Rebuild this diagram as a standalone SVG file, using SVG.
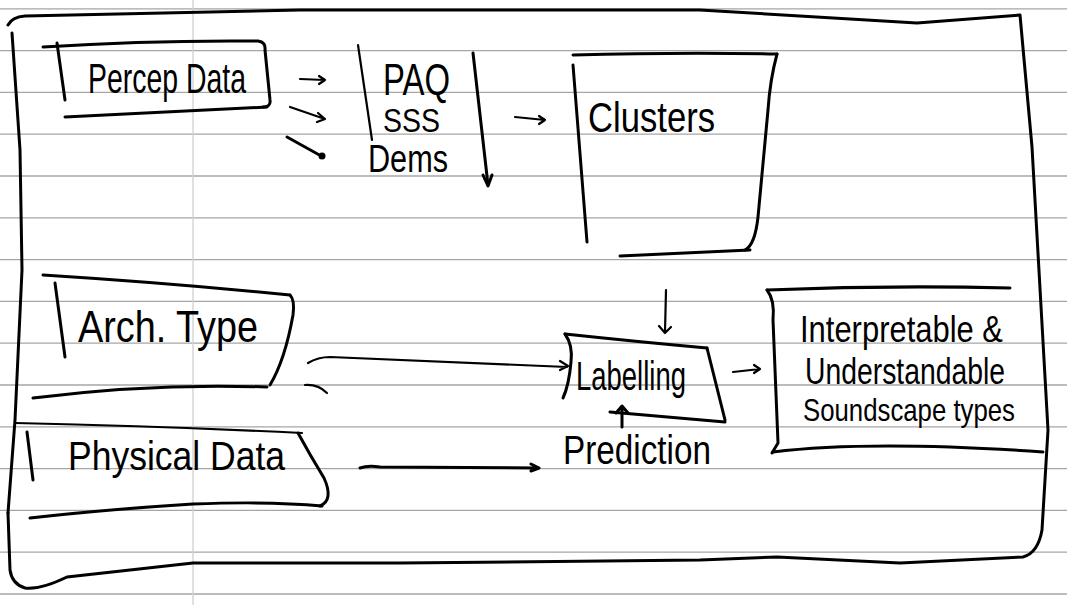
<svg xmlns="http://www.w3.org/2000/svg" width="1067" height="605" viewBox="0 0 1067 605">
<style>
.rule{stroke:#a6a6a6;stroke-width:1.3}
.margin{stroke:#cfcfcf;stroke-width:1.3}
.ink{fill:none;stroke:#000;stroke-width:3;stroke-linecap:round;stroke-linejoin:round}
.thin{fill:none;stroke:#000;stroke-width:2.2;stroke-linecap:round;stroke-linejoin:round}
text{font-family:"Liberation Sans","DejaVu Sans",sans-serif;fill:#000}
</style>
<rect width="1067" height="605" fill="#fff"/>
<g id="paper">
<line class="rule" x1="0" y1="8.8" x2="1067" y2="8.8"/>
<line class="rule" x1="0" y1="50.6" x2="1067" y2="50.6"/>
<line class="rule" x1="0" y1="92.4" x2="1067" y2="92.4"/>
<line class="rule" x1="0" y1="134.2" x2="1067" y2="134.2"/>
<line class="rule" x1="0" y1="176" x2="1067" y2="176"/>
<line class="rule" x1="0" y1="217.8" x2="1067" y2="217.8"/>
<line class="rule" x1="0" y1="259.6" x2="1067" y2="259.6"/>
<line class="rule" x1="0" y1="301.4" x2="1067" y2="301.4"/>
<line class="rule" x1="0" y1="343.2" x2="1067" y2="343.2"/>
<line class="rule" x1="0" y1="385" x2="1067" y2="385"/>
<line class="rule" x1="0" y1="426.8" x2="1067" y2="426.8"/>
<line class="rule" x1="0" y1="468.6" x2="1067" y2="468.6"/>
<line class="rule" x1="0" y1="510.4" x2="1067" y2="510.4"/>
<line class="rule" x1="0" y1="552.2" x2="1067" y2="552.2"/>
<line class="rule" x1="0" y1="594" x2="1067" y2="594"/>
<line class="margin" x1="193" y1="0" x2="193" y2="605"/>
</g>
<g id="frame">
<path class="ink" d="M8,25 Q12,17 25,16 L300,10 L700,10 L917,23 L1020,15 L1032,147 L1048,430 L1042,530 Q1038,553 1023,557 L900,563 L777,557 L700,560 L400,563 L193,563 L67,577 Q40,590 25,588 Q12,584 10,570 L8,513"/>
<path class="ink" d="M12,33 L20,150 L22,270 L15,420 L8,513"/>
</g>
<g id="percep-data">
<path class="ink" d="M43,47 Q150,40 258,41 Q266,42 265,50 L270,100 Q271,107 263,107"/>
<path class="ink" d="M65,117 Q170,112 267,107"/>
<path class="ink" d="M57,43 L65,100"/>
<text x="88" y="93" font-size="42" textLength="158" lengthAdjust="spacingAndGlyphs">Percep Data</text>
</g>
<g id="measures">
<path class="thin" d="M358,45 L372,140"/>
<path class="ink" d="M473,53 L488,185"/>
<path class="ink" d="M483,175 L488,186 L492,175"/>
<text x="383" y="95" font-size="44" textLength="67" lengthAdjust="spacingAndGlyphs">PAQ</text>
<text x="383" y="132" font-size="34" textLength="57" lengthAdjust="spacingAndGlyphs">SSS</text>
<text x="368" y="172" font-size="38" textLength="80" lengthAdjust="spacingAndGlyphs">Dems</text>
</g>
<g id="clusters">
<path class="ink" d="M573,55 Q680,52 777,54"/>
<path class="ink" d="M777,54 Q770,80 768,110 L758,217 Q755,245 745,250"/>
<path class="ink" d="M620,256 L750,250"/>
<path class="ink" d="M573,65 L587,242"/>
<text x="588" y="132" font-size="42" textLength="127" lengthAdjust="spacingAndGlyphs">Clusters</text>
</g>
<g id="arch-type">
<path class="ink" d="M43,275 Q170,283 290,295"/>
<path class="ink" d="M290,295 Q295,300 293,315 Q285,360 270,385"/>
<path class="ink" d="M33,398 Q150,383 267,387"/>
<path class="ink" d="M55,283 L65,357"/>
<text x="78" y="342" font-size="44" textLength="180" lengthAdjust="spacingAndGlyphs">Arch. Type</text>
</g>
<g id="physical-data">
<path class="thin" d="M15,423 Q160,426 302,433"/>
<path class="ink" d="M298,433 Q310,455 324,478 Q334,500 320,506"/>
<path class="ink" d="M30,518 Q100,510 193,504 Q270,501 322,506"/>
<path class="ink" d="M27,432 L33,480"/>
<text x="68" y="470" font-size="40" textLength="217" lengthAdjust="spacingAndGlyphs">Physical Data</text>
</g>
<g id="labelling">
<path class="ink" d="M565,334 Q640,342 707,348"/>
<path class="ink" d="M707,348 L725,420"/>
<path class="ink" d="M610,412 Q670,417 725,422"/>
<path class="ink" d="M565,334 Q573,345 571,362 Q569,385 563,398"/>
<text x="576" y="390" font-size="40" textLength="110" lengthAdjust="spacingAndGlyphs">Labelling</text>
</g>
<g id="prediction">
<text x="563" y="464" font-size="40" textLength="148" lengthAdjust="spacingAndGlyphs">Prediction</text>
</g>
<g id="soundscape-types">
<path class="ink" d="M767,290 Q890,285 1010,288"/>
<path class="ink" d="M767,290 Q775,300 773,320 L778,443 L772,453"/>
<path class="ink" d="M773,452 Q870,440 1043,452"/>
<text x="800" y="342" font-size="37" textLength="203" lengthAdjust="spacingAndGlyphs">Interpretable &amp;</text>
<text x="805" y="384" font-size="36" textLength="200" lengthAdjust="spacingAndGlyphs">Understandable</text>
<text x="803" y="421" font-size="32" textLength="212" lengthAdjust="spacingAndGlyphs">Soundscape types</text>
</g>
<g id="connectors">
<path class="thin" d="M300,79 L325,80 M319,76 L325,80 L319,84"/>
<path class="thin" d="M290,107 L325,119 M318,113 L325,119 L317,122"/>
<path class="ink" d="M287,137 L323,157"/>
<circle cx="322" cy="156" r="3.5" fill="#000"/>
<path class="thin" d="M515,117 L545,120 M539,116 L545,120 L539,124"/>
<path class="thin" d="M308,363 Q318,357 330,357 L567,367 M560,361 L568,366 L560,370"/>
<path class="thin" d="M305,385 Q318,384 327,393"/>
<path class="ink" d="M360,468 Q368,465 380,467 L538,468 M531,464 L539,468 L531,471"/>
<path class="thin" d="M666,290 L665,332 M659,326 L665,333 L671,327"/>
<path class="ink" d="M622,427 L622,407 M616,413 L622,406 L628,413"/>
<path class="thin" d="M733,372 L760,369 M754,365 L760,369 L754,373"/>
</g>
</svg>
